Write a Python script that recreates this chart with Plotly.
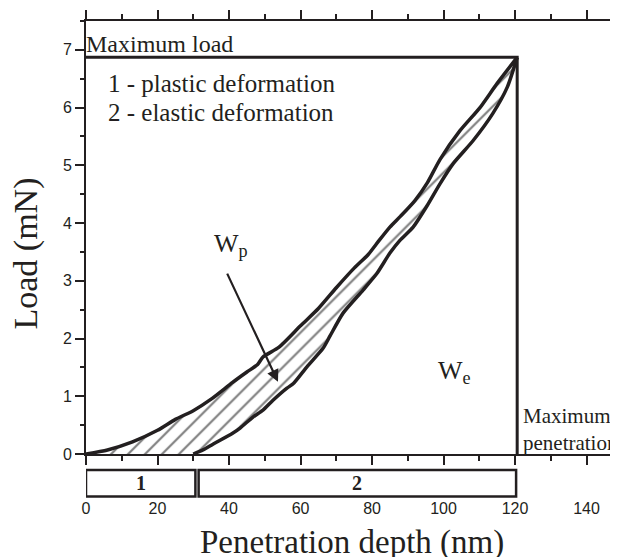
import plotly.graph_objects as go

# Loading curve (penetration depth nm, load mN)
load_x = [0, 6, 13, 20, 25, 30, 35, 41, 45, 48, 49.5, 54, 60, 65, 70, 75, 79, 82, 85, 88, 92, 95.5, 99, 104.6, 110.2, 115, 120.6]
load_y = [0, 0.07, 0.21, 0.41, 0.6, 0.75, 0.95, 1.24, 1.42, 1.55, 1.68, 1.85, 2.22, 2.52, 2.88, 3.22, 3.46, 3.7, 3.93, 4.12, 4.39, 4.7, 5.1, 5.6, 6.0, 6.42, 6.87]

# Unloading curve
unload_x = [120.6, 117.8, 113.8, 108.3, 102.7, 99, 95.4, 91.5, 87.8, 85, 81.4, 77.5, 71.9, 68.3, 66.3, 61.8, 58, 56.2, 52.3, 49.5, 46.7, 43.1, 41, 35.5, 33, 30]
unload_y = [6.87, 6.35, 5.9, 5.43, 5.03, 4.68, 4.3, 3.93, 3.7, 3.48, 3.13, 2.84, 2.44, 2.05, 1.83, 1.51, 1.22, 1.14, 0.93, 0.76, 0.64, 0.45, 0.36, 0.17, 0.08, 0]

max_load = 6.87
max_depth = 120.6

# Bottom boxes: (start, end, label)
box_starts = [0, 31.5]
box_ends = [30.6, 120.3]
box_labels = ["1", "2"]

x_ticks = [0, 20, 40, 60, 80, 100, 120, 140]
y_ticks = [0, 1, 2, 3, 4, 5, 6, 7]

INK = "#231f20"
SERIF = "Liberation Serif, Times New Roman, serif"
SANS = "Liberation Sans, Arial, sans-serif"

fig = go.Figure()

# hatched area between loading and unloading curves
fig.add_trace(go.Scatter(
    x=load_x + unload_x[1:] + [0],
    y=load_y + unload_y[1:] + [0],
    mode="lines", fill="toself", line=dict(width=0, color="rgba(0,0,0,0)"),
    fillcolor="white",
    fillpattern=dict(shape="/", size=12, solidity=0.18, fgcolor="black", bgcolor="white"),
    hoverinfo="skip", showlegend=False))

fig.add_trace(go.Scatter(x=load_x, y=load_y, mode="lines",
                         line=dict(color=INK, width=3.5, shape="spline", smoothing=0.6),
                         showlegend=False))
fig.add_trace(go.Scatter(x=unload_x, y=unload_y, mode="lines",
                         line=dict(color=INK, width=3.5, shape="spline", smoothing=0.6),
                         showlegend=False))

# maximum load / maximum penetration lines
fig.add_trace(go.Scatter(x=[0, max_depth, max_depth], y=[max_load, max_load, 0], mode="lines",
                         line=dict(color=INK, width=3), showlegend=False))

shapes = []
annotations = []
for s, e, lab in zip(box_starts, box_ends, box_labels):
    shapes.append(dict(type="rect", xref="x", yref="paper", x0=s, x1=e, y0=-0.098, y1=-0.037,
                       line=dict(color=INK, width=2.5), fillcolor="white"))
    annotations.append(dict(x=(s + e) / 2, y=-0.0675, xref="x", yref="paper", text="<b>" + lab + "</b>",
                            showarrow=False, font=dict(family=SERIF, size=20, color=INK),
                            xanchor="center", yanchor="middle"))

annotations += [
    dict(x=0, y=max_load, xref="x", yref="y", text="Maximum load", showarrow=False,
         xanchor="left", yanchor="bottom", xshift=-2, yshift=-2,
         font=dict(family=SERIF, size=24, color=INK)),
    dict(x=5.7, y=6.42, xref="x", yref="y", text="1 - plastic deformation", showarrow=False,
         xanchor="left", yanchor="middle", font=dict(family=SERIF, size=25, color=INK)),
    dict(x=5.7, y=5.92, xref="x", yref="y", text="2 - elastic deformation", showarrow=False,
         xanchor="left", yanchor="middle", font=dict(family=SERIF, size=25, color=INK)),
    dict(x=40.5, y=3.62, xref="x", yref="y", text="W<sub>p</sub>", showarrow=False,
         xanchor="center", yanchor="middle", font=dict(family=SERIF, size=26, color=INK)),
    dict(x=53.7, y=1.25, ax=39.3, ay=3.15, xref="x", yref="y", axref="x", ayref="y",
         text="", showarrow=True, arrowhead=2, arrowsize=1.1, arrowwidth=2.2, arrowcolor=INK),
    dict(x=103, y=1.42, xref="x", yref="y", text="W<sub>e</sub>", showarrow=False,
         xanchor="center", yanchor="middle", font=dict(family=SERIF, size=26, color=INK)),
    dict(x=121.6, y=0, xref="x", yref="y", text="Maximum<br>penetration", showarrow=False,
         xanchor="left", yanchor="bottom", align="left", yshift=-3,
         font=dict(family=SERIF, size=21, color=INK)),
    dict(x=0.5, y=-0.157, xref="paper", yref="paper", text="Penetration depth (nm)", showarrow=False,
         xanchor="center", yanchor="top", font=dict(family=SERIF, size=33, color=INK)),
    dict(x=-0.112, y=0.464, xref="paper", yref="paper", text="Load (mN)", showarrow=False,
         textangle=-90, xanchor="center", yanchor="middle", font=dict(family=SERIF, size=34, color=INK)),
]

# the page body has an 8px margin, so the figure is sized/offset to compensate
fig.update_layout(
    width=610, height=549,
    margin=dict(l=78, r=0, t=13, b=103),
    plot_bgcolor="white", paper_bgcolor="white",
    shapes=shapes, annotations=annotations,
    showlegend=False,
)
fig.update_xaxes(range=[0, 148.8], tickvals=x_ticks, ticks="outside", ticklen=9, tickwidth=1.5,
                 tickcolor=INK, showline=True, linewidth=2, linecolor=INK, mirror="ticks",
                 showgrid=False, zeroline=False, ticklabelstandoff=30,
                 tickfont=dict(family=SANS, size=16, color=INK),
                 minor=dict(dtick=10, tick0=0, ticks="outside", ticklen=5, tickwidth=1.5, tickcolor=INK, showgrid=False))
fig.update_yaxes(range=[0, 7.5], tickvals=y_ticks, ticks="outside", ticklen=9, tickwidth=1.5,
                 tickcolor=INK, showline=True, linewidth=2, linecolor=INK,
                 showgrid=False, zeroline=False,
                 tickfont=dict(family=SANS, size=16, color=INK),
                 minor=dict(dtick=0.5, tick0=0, ticks="outside", ticklen=4, tickwidth=1.5, tickcolor=INK, showgrid=False))

fig.write_html("out.html")
